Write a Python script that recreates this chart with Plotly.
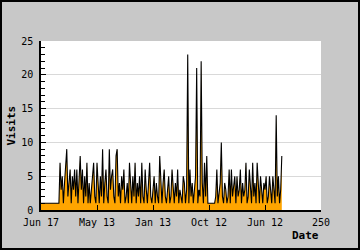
import plotly.graph_objects as go

# ---- data ----
visits = [
    1, 1, 1, 1, 1, 1, 1, 1, 1, 1,
    1, 1, 1, 1, 1, 1, 1, 7, 3, 5,
    1, 4, 6, 9, 2, 5, 6, 1, 5, 3,
    6, 2, 6, 1, 4, 8, 3, 6, 1, 5,
    2, 7, 1, 4, 1, 3, 5, 7, 2, 1,
    7, 3, 1, 5, 2, 9, 1, 4, 6, 2,
    1, 9, 3, 5, 6, 2, 1, 8, 9, 2,
    4, 1, 5, 3, 6, 1, 2, 4, 1, 7,
    3, 1, 5, 2, 7, 1, 4, 2, 5, 1,
    7, 2, 1, 6, 3, 1, 4, 7, 2, 1,
    3, 5, 1, 4, 2, 1, 8, 3, 1, 4,
    6, 2, 1, 3, 5, 1, 2, 6, 3, 1,
    4, 2, 6, 1, 3, 2, 1, 5, 4, 1,
    3, 23, 1, 6, 2, 4, 1, 3, 5, 21,
    1, 3, 2, 22, 4, 1, 7, 2, 8, 1,
    1, 1, 1, 1, 1, 1, 2, 6, 1, 3,
    4, 10, 2, 1, 4, 3, 1, 2, 6, 1,
    6, 2, 4, 5, 1, 5, 2, 3, 6, 1,
    4, 2, 3, 7, 1, 2, 6, 3, 1, 7,
    2, 4, 1, 7, 3, 1, 5, 2, 1, 4,
    3, 5, 1, 2, 5, 3, 1, 5, 2, 1,
    14, 2, 5, 1, 3, 8,
]
x_index = list(range(len(visits)))
x_tick_vals = [0, 50, 100, 150, 200, 250]
x_tick_text = ["Jun 17", "May 13", "Jan 13", "Oct 12", "Jun 12", "250"]
y_tick_vals = [0, 5, 10, 15, 20, 25]

W, H = 360, 250
L, R, T, B = 41, 39, 41, 40
pw, ph = W - L - R, H - T - B

font_mono = "DejaVu Sans Mono"

fig = go.Figure()
fig.add_trace(go.Scatter(
    x=x_index, y=visits, mode="lines",
    line=dict(color="#000000", width=1.1),
    fill="tozeroy", fillcolor="#FFA500",
    hoverinfo="skip", showlegend=False,
))

fig.update_layout(
    width=W, height=H,
    margin=dict(l=L, r=R, t=T, b=B, pad=0),
    paper_bgcolor="#c8c8c8",
    plot_bgcolor="#ffffff",
    font=dict(family=font_mono, size=10, color="#000000"),
    showlegend=False,
    xaxis=dict(
        range=[0, 250], tickmode="array", tickvals=x_tick_vals, ticktext=x_tick_text,
        ticks="inside", ticklen=5, tickwidth=1, tickcolor="#000000",
        showline=True, linecolor="#000000", linewidth=1.5,
        showgrid=False, zeroline=False, ticklabelstandoff=2,
        fixedrange=True,
    ),
    yaxis=dict(
        range=[0, 25], tickmode="array", tickvals=y_tick_vals,
        ticks="inside", ticklen=5, tickwidth=1, tickcolor="#000000",
        minor=dict(dtick=1, ticks="inside", ticklen=4, tickcolor="#000000", showgrid=False),
        showline=True, linecolor="#000000", linewidth=1.5,
        showgrid=True, gridcolor="#d9d9d9", gridwidth=1,
        zeroline=False, ticklabelstandoff=4,
        fixedrange=True,
    ),
    annotations=[
        dict(text="<b>Visits</b>", xref="paper", yref="paper",
             x=(11 - L) / pw, y=0.5, textangle=-90, showarrow=False,
             xanchor="center", yanchor="middle",
             font=dict(family=font_mono, size=11, color="#000000")),
        dict(text="<b>Date</b>", xref="paper", yref="paper",
             x=1.0, y=-(236 - (T + ph)) / ph, showarrow=False,
             xanchor="right", yanchor="middle",
             font=dict(family=font_mono, size=11, color="#000000")),
    ],
    shapes=[
        dict(type="rect", xref="paper", yref="paper",
             x0=(1 - L) / pw, x1=(W - 1 - L) / pw,
             y0=-(H - 1 - (T + ph)) / ph, y1=(T + ph - 1) / ph,
             line=dict(color="#000000", width=2), fillcolor="rgba(0,0,0,0)",
             layer="above"),
    ],
)

fig.write_html("out.html", config={"displayModeBar": False})
